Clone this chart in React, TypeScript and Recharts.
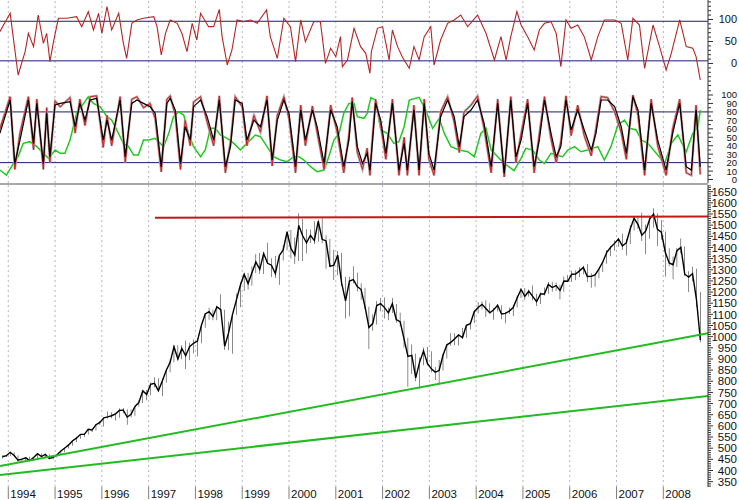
import React from "react";
import { ComposedChart, LineChart, Line, Bar, XAxis, YAxis, ReferenceLine } from "recharts";

// ---------- time axis ----------
const T0 = 1993.823;
const T1 = 2008.955;
const yearTicks = [1994, 1995, 1996, 1997, 1998, 1999, 2000, 2001, 2002, 2003, 2004, 2005, 2006, 2007, 2008];

// ---------- monthly price bars (S&P 500), Nov 1993 .. Oct 2008 ----------
const firstYear = 1993;
const firstMonth = 11;
const priceHigh = [
  468.6, 471,
  482.9, 482, 468, 453, 458, 462, 459, 477, 476, 475, 473, 466,
  473, 489, 503, 515, 535, 551, 564, 565, 586, 587, 608, 622,
  636, 664, 661, 656, 679, 680, 675, 673, 688, 714, 758, 761,
  794, 818, 814, 812, 851, 899, 961, 961, 961, 983, 973, 987,
  992, 1050, 1106, 1130, 1122, 1139, 1190, 1121, 1068, 1104, 1193, 1244,
  1281, 1285, 1316, 1371, 1375, 1374, 1421, 1352, 1362, 1370, 1410, 1474,
  1478, 1445, 1553, 1528, 1482, 1479, 1517, 1525, 1530, 1454, 1438, 1390,
  1384, 1376, 1268, 1269, 1316, 1287, 1240, 1219, 1134, 1100, 1160, 1173,
  1176, 1131, 1173, 1147, 1107, 1071, 994, 965, 925, 907, 951, 954,
  935, 864, 895, 924, 966, 1015, 1015, 1011, 1040, 1053, 1063, 1112,
  1155, 1159, 1163, 1150, 1128, 1146, 1141, 1111, 1131, 1143, 1185, 1217,
  1218, 1212, 1229, 1192, 1199, 1220, 1245, 1246, 1243, 1233, 1270, 1276,
  1295, 1297, 1311, 1318, 1326, 1284, 1283, 1306, 1340, 1389, 1407, 1431,
  1441, 1461, 1438, 1499, 1535, 1541, 1556, 1503, 1538, 1576, 1553, 1523,
  1471, 1396, 1359, 1397, 1440, 1404, 1293, 1314, 1304, 1200,
];
const priceLow = [
  454, 460,
  465, 464, 436, 435, 439, 442, 443, 455, 461, 460, 450, 449,
  458, 469, 482, 499, 511, 528, 542, 550, 561, 573, 579, 604,
  597, 633, 634, 624, 636, 657, 605, 638, 646, 687, 703, 715,
  737, 773, 756, 733, 793, 840, 885, 897, 899, 855, 894, 924,
  912, 970, 1040, 1076, 1074, 1074, 1114, 940, 939, 923, 1098, 1132,
  1205, 1211, 1228, 1285, 1282, 1281, 1328, 1268, 1263, 1233, 1342, 1387,
  1350, 1326, 1339, 1339, 1374, 1420, 1416, 1426, 1419, 1305, 1313, 1254,
  1275, 1228, 1081, 1091, 1240, 1203, 1165, 1124, 945, 1026, 1054, 1114,
  1081, 1074, 1106, 1063, 1048, 952, 775, 833, 800, 768, 872, 871,
  840, 806, 789, 847, 902, 959, 962, 960, 990, 995, 1032, 1061,
  1105, 1122, 1088, 1105, 1076, 1113, 1078, 1060, 1102, 1091, 1131, 1173,
  1163, 1180, 1163, 1137, 1147, 1185, 1192, 1201, 1205, 1168, 1201, 1245,
  1245, 1253, 1268, 1280, 1245, 1219, 1224, 1262, 1290, 1327, 1361, 1385,
  1403, 1389, 1364, 1416, 1476, 1484, 1429, 1371, 1439, 1489, 1407, 1435,
  1270, 1317, 1257, 1312, 1373, 1272, 1200, 1247, 1133, 975,
];
const priceClose = [
  461.8, 466.5,
  481.6, 467.1, 445.8, 450.9, 456.5, 444.3, 458.3, 475.5, 462.7, 472.4, 453.7, 459.3,
  470.4, 487.4, 500.7, 514.7, 533.4, 544.8, 562.1, 561.9, 584.4, 581.5, 605.4, 615.9,
  636.0, 640.4, 645.5, 654.2, 669.1, 670.6, 639.9, 652.0, 687.3, 705.3, 757.0, 740.7,
  786.2, 790.8, 757.1, 801.3, 848.3, 885.1, 954.3, 899.5, 947.3, 914.6, 955.4, 970.4,
  980.3, 1049.3, 1101.8, 1111.8, 1090.8, 1133.8, 1120.7, 957.3, 1017.0, 1098.7, 1163.6, 1229.2,
  1279.6, 1238.3, 1286.4, 1335.2, 1301.8, 1372.7, 1328.7, 1320.4, 1282.7, 1362.9, 1389.0, 1469.3,
  1394.5, 1366.4, 1498.6, 1452.4, 1420.6, 1454.6, 1430.8, 1517.7, 1436.5, 1429.4, 1315.2, 1320.3,
  1366.0, 1239.9, 1160.3, 1249.5, 1255.8, 1224.4, 1211.2, 1133.6, 1040.9, 1059.8, 1139.5, 1148.1,
  1130.2, 1106.7, 1147.4, 1076.9, 1067.1, 989.8, 911.6, 916.1, 815.3, 885.8, 936.3, 879.8,
  855.7, 841.2, 848.2, 916.9, 963.6, 974.5, 990.3, 1008.0, 996.0, 1050.7, 1058.2, 1111.9,
  1131.1, 1144.9, 1126.2, 1107.3, 1120.7, 1140.8, 1101.7, 1104.2, 1114.6, 1130.2, 1173.8, 1211.9,
  1181.3, 1203.6, 1180.6, 1156.9, 1191.5, 1191.3, 1234.2, 1220.3, 1228.8, 1207.0, 1249.5, 1248.3,
  1280.1, 1280.7, 1294.9, 1310.6, 1270.1, 1270.2, 1276.7, 1303.8, 1335.8, 1377.9, 1400.6, 1418.3,
  1438.2, 1406.8, 1420.9, 1482.4, 1530.6, 1503.4, 1455.3, 1474.0, 1526.8, 1549.4, 1481.1, 1468.4,
  1378.6, 1330.6, 1322.7, 1385.6, 1400.4, 1280.0, 1267.4, 1282.8, 1166.4, 985,
];

// trend lines on the price panel
const resistanceT = [1997.136, 2008.955];
const resistanceV = [1533, 1539];
const upperTrendT = [1993.823, 2008.955];
const upperTrendV = [420, 1015];
const lowerTrendT = [1993.823, 2008.955];
const lowerTrendV = [380, 734];

// ---------- top oscillator ----------
const osc1T = [
  1993.82, 1994.04, 1994.21, 1994.36, 1994.43, 1994.54, 1994.64, 1994.75, 1994.82, 1994.89, 1994.96,
  1995.07, 1995.25, 1995.46, 1995.57, 1995.71, 1995.82, 1995.93, 1996.0, 1996.11, 1996.21, 1996.36,
  1996.46, 1996.53, 1996.64, 1996.75, 1996.89, 1997.11, 1997.18, 1997.27, 1997.36, 1997.46, 1997.61,
  1997.71, 1997.82, 1997.93, 1998.03, 1998.11, 1998.28, 1998.39, 1998.51, 1998.57, 1998.68, 1998.78,
  1998.89, 1999.03, 1999.18, 1999.32, 1999.52, 1999.6, 1999.75, 1999.89, 2000.03, 2000.14, 2000.25,
  2000.35, 2000.53, 2000.67, 2000.78, 2000.89, 2001.0, 2001.1, 2001.14, 2001.25, 2001.39, 2001.53,
  2001.64, 2001.73, 2001.76, 2001.89, 2002.0, 2002.14, 2002.21, 2002.32, 2002.42, 2002.57, 2002.67,
  2002.78, 2002.89, 2003.03, 2003.1, 2003.24, 2003.39, 2003.53, 2003.67, 2003.82, 2004.03, 2004.21,
  2004.39, 2004.53, 2004.64, 2004.74, 2004.87, 2004.96, 2005.1, 2005.24, 2005.35, 2005.46, 2005.6,
  2005.71, 2005.81, 2005.92, 2006.03, 2006.17, 2006.31, 2006.46, 2006.6, 2006.74, 2006.96, 2007.1,
  2007.24, 2007.35, 2007.49, 2007.6, 2007.78, 2007.92, 2008.06, 2008.17, 2008.35, 2008.49, 2008.63,
  2008.7, 2008.79,
];
const osc1V = [
  72.3, 114.0, -26.1, 26.9, 68.6, 38.3, 110.2, 45.8, 68.6, 4.2, 45.8,
  102.7, 102.7, 106.4, 83.7, 117.8, 76.1, 114.0, 68.6, 129.2, 76.1, 114.0,
  45.8, 11.7, 91.3, 98.9, 102.7, 106.4, 83.7, 19.3, 68.6, 98.9, 91.3,
  68.6, 26.9, 91.3, 53.4, 114.0, 83.7, 83.7, 123.1, 61.0, -3.4, 30.7,
  98.9, 95.1, 98.9, 91.3, 121.6, 61.0, 11.7, 102.7, 83.7, 4.2, 98.9,
  49.6, 95.1, 95.1, 0.4, 34.5, 15.5, 61.0, -7.2, 8.0, 79.9, 38.3,
  23.1, -22.3, 26.9, 79.9, 83.7, 8.0, 76.1, 38.3, 15.5, -11.0, 38.3,
  8.0, 61.0, 83.7, -3.4, 53.4, 91.3, 98.9, 110.2, 83.7, 110.2, 68.6,
  8.0, 61.0, 8.0, 61.0, 117.8, 87.5, 61.0, 30.7, 76.1, 91.3, 95.1,
  68.6, -7.2, 98.9, 79.9, 87.5, 61.0, 8.0, 61.0, 98.9, 98.9, 91.3,
  8.0, 102.7, 87.5, -11.0, 87.5, 38.3, -14.8, 23.1, 98.9, 38.3, 34.5,
  15.5, -37.5,
];
const osc1Lines = [96, 6];
const osc1Labels = [0, 50, 100];

// ---------- stochastic panel ----------
const stochT = [
  1993.82, 1994.04, 1994.14, 1994.25, 1994.43, 1994.54, 1994.61, 1994.75, 1994.82, 1994.89, 1995.0,
  1995.11, 1995.32, 1995.43, 1995.53, 1995.64, 1995.75, 1995.89, 1996.03, 1996.11, 1996.21, 1996.39,
  1996.5, 1996.64, 1996.75, 1996.89, 1997.03, 1997.14, 1997.27, 1997.39, 1997.46, 1997.57, 1997.68,
  1997.78, 1997.89, 1997.96, 1998.11, 1998.25, 1998.39, 1998.51, 1998.64, 1998.75, 1998.85, 1999.0,
  1999.1, 1999.25, 1999.39, 1999.53, 1999.64, 1999.75, 1999.89, 2000.0, 2000.14, 2000.25, 2000.35,
  2000.5, 2000.6, 2000.75, 2000.89, 2001.03, 2001.17, 2001.28, 2001.35, 2001.46, 2001.57, 2001.67,
  2001.73,
  2001.77, 2001.85, 2001.96, 2002.07, 2002.21, 2002.35, 2002.46, 2002.53, 2002.67, 2002.78, 2002.89,
  2002.99, 2003.1, 2003.24, 2003.39, 2003.53, 2003.64, 2003.74, 2003.89, 2004.03, 2004.17, 2004.32,
  2004.46, 2004.6, 2004.74, 2004.85, 2004.96, 2005.1, 2005.24, 2005.35, 2005.46, 2005.6, 2005.71,
  2005.81, 2005.92, 2006.03, 2006.17, 2006.31, 2006.46, 2006.56, 2006.67, 2006.81, 2006.96, 2007.1,
  2007.21, 2007.35, 2007.46, 2007.6, 2007.74, 2007.88, 2008.06, 2008.2, 2008.35, 2008.49, 2008.6,
  2008.7, 2008.79,
];
const stochSlow = [
  54.6, 94.1, 19.1, 46.7, 94.1, 42.8, 90.1, 19.1, 78.3, 27.0, 88.2,
  90.1, 92.1, 62.5, 90.1, 70.4, 94.1, 96.1, 46.7, 70.4, 46.7, 94.1,
  27.0, 90.1, 94.1, 90.1, 86.2, 78.3, 15.2, 90.1, 96.1, 82.2, 19.1,
  62.5, 46.7, 86.2, 94.1, 74.4, 46.7, 94.1, 15.2, 38.9, 94.1, 90.1,
  46.7, 70.4, 62.5, 94.1, 23.1, 70.4, 94.1, 78.3, 15.2, 82.2, 46.7,
  82.2, 62.5, 19.1, 82.2, 62.5, 15.2, 46.7, 92.1, 38.9, 19.1, 31.0,
  11.2,
  34.9, 90.1, 70.4, 31.0, 90.1, 11.2, 42.8, 11.2, 82.2, 11.2, 90.1,
  31.0, 11.2, 74.4, 94.1, 74.4, 38.9, 74.4, 82.2, 94.1, 66.5, 15.2,
  90.1, 7.3, 94.1, 27.0, 46.7, 90.1, 15.2, 46.7, 94.1, 54.6, 27.0,
  38.9, 94.1, 58.6, 82.2, 58.6, 34.9, 54.6, 94.1, 94.1, 86.2, 62.5,
  31.0, 98.0, 82.2, 11.2, 90.1, 46.7, 11.2, 54.6, 90.1, 15.2, 11.2,
  82.2, 15.2,
];
const stochFast = [
  60, 98, 12, 55, 98, 35, 95, 12, 85, 20, 93,
  86, 97, 55, 95, 64, 98, 99, 38, 76, 40, 98,
  20, 95, 98, 85, 90, 72, 9, 95, 99, 76, 12,
  70, 40, 92, 98, 68, 40, 99, 8, 45, 98, 86,
  40, 76, 56, 99, 16, 76, 98, 72, 8, 88, 40,
  87, 56, 12, 88, 56, 8, 52, 97, 32, 12, 37,
  5,
  40, 95, 64, 24, 95, 5, 50, 5, 88, 5, 95,
  24, 5, 80, 98, 68, 32, 80, 88, 99, 60, 8,
  95, 3, 98, 20, 54, 95, 8, 54, 98, 48, 20,
  45, 99, 52, 88, 52, 28, 60, 98, 97, 80, 56,
  24, 100, 76, 5, 95, 40, 5, 60, 95, 8, 5,
  88, 6,
];
const stochLongT = [
  1993.82, 1993.96, 1994.11, 1994.21, 1994.32, 1994.46, 1994.61, 1994.75, 1994.86, 1995.0, 1995.11,
  1995.21, 1995.32, 1995.46, 1995.61, 1995.71, 1995.82, 1995.96, 1996.11, 1996.21, 1996.32, 1996.46,
  1996.57, 1996.68, 1996.78, 1996.89, 1997.0, 1997.14, 1997.32, 1997.43, 1997.53, 1997.64, 1997.75,
  1997.85, 1997.96, 1998.11, 1998.21, 1998.32, 1998.43, 1998.53, 1998.68, 1998.82, 1998.96, 1999.1,
  1999.28, 1999.39, 1999.53, 1999.67, 1999.82, 1999.96, 2000.1, 2000.21, 2000.32, 2000.46, 2000.6,
  2000.75, 2000.85, 2000.96, 2001.07, 2001.17, 2001.28, 2001.39, 2001.46, 2001.6, 2001.67, 2001.75,
  2001.85, 2001.96, 2002.1, 2002.24, 2002.35, 2002.46, 2002.57, 2002.78, 2002.92, 2003.07, 2003.21,
  2003.32, 2003.46, 2003.64, 2003.82, 2003.96, 2004.1, 2004.21, 2004.32, 2004.46, 2004.6, 2004.81,
  2004.96, 2005.06, 2005.21, 2005.35, 2005.46, 2005.6, 2005.71, 2005.85, 2005.96, 2006.1, 2006.24,
  2006.38, 2006.49, 2006.6, 2006.74, 2006.88, 2007.03, 2007.17, 2007.28, 2007.42, 2007.53, 2007.67,
  2007.88, 2008.03, 2008.17, 2008.31, 2008.49, 2008.63, 2008.74, 2008.79,
];
const stochLong = [
  11.2, 5.3, 19.1, 27.0, 42.8, 44.8, 38.9, 31.0, 25.0, 34.9, 31.0,
  31.0, 46.7, 78.3, 90.1, 98.0, 90.1, 86.2, 74.4, 70.4, 58.6, 42.8,
  38.9, 29.0, 29.0, 46.7, 46.7, 48.7, 38.9, 54.6, 74.4, 80.3, 76.3,
  54.6, 38.9, 27.0, 34.9, 60.6, 60.6, 52.7, 48.7, 42.8, 34.9, 42.8,
  52.7, 50.7, 38.9, 27.0, 23.1, 21.1, 27.0, 27.0, 23.1, 15.2, 9.3,
  11.2, 27.0, 46.7, 54.6, 78.3, 90.1, 90.1, 74.4, 72.4, 78.3, 97.0,
  94.1, 58.6, 54.6, 42.8, 44.8, 62.5, 94.1, 97.2, 82.2, 60.6, 72.4,
  54.6, 38.9, 34.9, 32.9, 27.0, 54.6, 60.6, 34.9, 27.0, 19.1, 10.5,
  25.0, 36.9, 34.9, 23.1, 19.1, 31.0, 29.0, 27.0, 34.9, 38.9, 32.9,
  34.9, 36.9, 38.9, 23.1, 38.9, 64.5, 70.4, 60.6, 58.6, 46.7, 42.8,
  29.0, 19.1, 42.8, 52.7, 32.9, 54.6, 62.5, 82.2,
];
const stochLines = [80, 20];
const stochLabels = [0, 10, 20, 30, 40, 50, 60, 70, 80, 90, 100];

const priceLabels = [
  350, 400, 450, 500, 550, 600, 650, 700, 750, 800, 850, 900, 950, 1000, 1050, 1100,
  1150, 1200, 1250, 1300, 1350, 1400, 1450, 1500, 1550, 1600, 1650,
];

// ---------- derived tables ----------
const priceData = priceHigh.map((h, i) => ({
  t: firstYear + (firstMonth - 1 + i + 0.5) / 12,
  range: [priceLow[i], h],
  close: priceClose[i],
}));
const pairs = (ts: number[], vs: number[]) => ts.map((t, i) => ({ t, v: vs[i] }));
const osc1Data = pairs(osc1T, osc1V);
const slowData = pairs(stochT, stochSlow);
const fastData = pairs(stochT, stochFast);
const longData = pairs(stochLongT, stochLong);
const resistanceData = pairs(resistanceT, resistanceV);
const upperTrendData = pairs(upperTrendT, upperTrendV);
const lowerTrendData = pairs(lowerTrendT, lowerTrendV);

const steps = (from: number, to: number, step: number) => {
  const out: number[] = [];
  for (let v = from; v <= to + 1e-9; v += step) out.push(Math.round(v * 100) / 100);
  return out;
};
const priceTicks = steps(330, 1680, 10);
const osc1Ticks = steps(-50, 140, 10);
const stochTicks = steps(0, 105, 5);

const FONT = "'Liberation Sans', Arial, sans-serif";
const AXIS = "#333";
const NAVY = "#1a1a78";
const GRID = "#b4b4c8";

const makeYTick = (labels: number[], fontSize: number) => (props: any) => {
  const { x, y, payload } = props;
  const v = payload.value;
  const major = labels.includes(v);
  return (
    <g>
      <line x1={x} y1={y} x2={x + (major ? 5 : 3)} y2={y} stroke={AXIS} strokeWidth={1} />
      {major && (
        <text x={x + 29} y={y + fontSize * 0.36} textAnchor="end" fontSize={fontSize} fontFamily={FONT} fill="#111">
          {v}
        </text>
      )}
    </g>
  );
};

const YearTick = (props: any) => {
  const { x, y, payload } = props;
  return (
    <g>
      <line x1={x} y1={y} x2={x} y2={y + 12} stroke="#808080" strokeWidth={1} />
      <text x={x + 2} y={y + 11} fontSize={11.5} fontFamily={FONT} fill="#111">
        {payload.value}
      </text>
    </g>
  );
};

const yearGrid = () =>
  yearTicks.map((yr) => (
    <ReferenceLine key={`g${yr}`} x={yr} stroke={GRID} strokeDasharray="2 3" ifOverflow="hidden" />
  ));

const W = 739;
const AXW = 31;

export default function App() {
  return (
    <div style={{ position: "absolute", left: 0, top: 0, width: W, height: 500, background: "#fff", overflow: "hidden" }}>
      {/* top oscillator */}
      <div style={{ position: "absolute", left: 0, top: 0 }}>
        <LineChart width={W} height={88} margin={{ top: 0, right: 0, bottom: 0, left: 0 }}>
          <XAxis type="number" dataKey="t" domain={[T0, T1]} allowDataOverflow hide />
          <YAxis
            orientation="right"
            width={AXW}
            type="number"
            domain={[-55.7, 144.3]}
            allowDataOverflow
            ticks={osc1Ticks}
            interval={0}
            tick={makeYTick(osc1Labels, 11)}
            tickLine={false}
            tickSize={0}
            tickMargin={0}
            axisLine={{ stroke: AXIS }}
          />
          {yearGrid()}
          {osc1Lines.map((v) => (
            <ReferenceLine key={`o${v}`} y={v} stroke={NAVY} strokeWidth={1} />
          ))}
          <Line data={osc1Data} dataKey="v" type="linear" stroke="#b52626" strokeWidth={1.1} dot={false} isAnimationActive={false} />
        </LineChart>
      </div>

      {/* stochastic panel */}
      <div style={{ position: "absolute", left: 0, top: 88 }}>
        <LineChart width={W} height={101} margin={{ top: 0, right: 0, bottom: 6, left: 0 }}>
          <XAxis type="number" dataKey="t" domain={[T0, T1]} allowDataOverflow hide />
          <YAxis
            orientation="right"
            width={AXW}
            type="number"
            domain={[-4.1, 108.3]}
            allowDataOverflow
            ticks={stochTicks}
            interval={0}
            tick={makeYTick(stochLabels, 9.5)}
            tickLine={false}
            tickSize={0}
            tickMargin={0}
            axisLine={{ stroke: AXIS }}
          />
          {yearGrid()}
          {stochLines.map((v) => (
            <ReferenceLine key={`s${v}`} y={v} stroke={NAVY} strokeWidth={1} />
          ))}
          <Line data={longData} dataKey="v" type="linear" stroke="#22c822" strokeWidth={1.5} dot={false} isAnimationActive={false} />
          <Line data={fastData} dataKey="v" type="linear" stroke="#b8a8a8" strokeWidth={2.4} dot={false} isAnimationActive={false} />
          <Line data={fastData} dataKey="v" type="linear" stroke="#d42020" strokeWidth={1} dot={false} isAnimationActive={false} />
          <Line data={slowData} dataKey="v" type="linear" stroke="#000" strokeWidth={1.2} dot={false} isAnimationActive={false} />
        </LineChart>
      </div>

      {/* separator */}
      <div style={{ position: "absolute", left: 0, top: 183, width: 708, height: 2, background: "#a8a8a8" }} />

      {/* price panel */}
      <div style={{ position: "absolute", left: 0, top: 185 }}>
        <ComposedChart width={W} height={315} data={priceData} margin={{ top: 0, right: 0, bottom: 0, left: 0 }}>
          <XAxis
            type="number"
            dataKey="t"
            domain={[T0, T1]}
            allowDataOverflow
            ticks={yearTicks}
            interval={0}
            tick={YearTick}
            tickLine={false}
            tickSize={0}
            tickMargin={0}
            axisLine={false}
            height={13}
          />
          <YAxis
            orientation="right"
            width={AXW}
            type="number"
            domain={[326, 1680]}
            allowDataOverflow
            ticks={priceTicks}
            interval={0}
            tick={makeYTick(priceLabels, 11.5)}
            tickLine={false}
            tickSize={0}
            tickMargin={0}
            axisLine={{ stroke: AXIS }}
          />
          {yearGrid()}
          <Bar dataKey="range" fill="#000" barSize={1.6} isAnimationActive={false} />
          <Line dataKey="close" type="linear" stroke="#000" strokeWidth={1.4} dot={false} isAnimationActive={false} />
          <Line data={resistanceData} dataKey="v" type="linear" stroke="#c41818" strokeWidth={2} dot={false} isAnimationActive={false} />
          <Line data={upperTrendData} dataKey="v" type="linear" stroke="#22bb22" strokeWidth={2} dot={false} isAnimationActive={false} />
          <Line data={lowerTrendData} dataKey="v" type="linear" stroke="#22bb22" strokeWidth={2} dot={false} isAnimationActive={false} />
        </ComposedChart>
      </div>
    </div>
  );
}
